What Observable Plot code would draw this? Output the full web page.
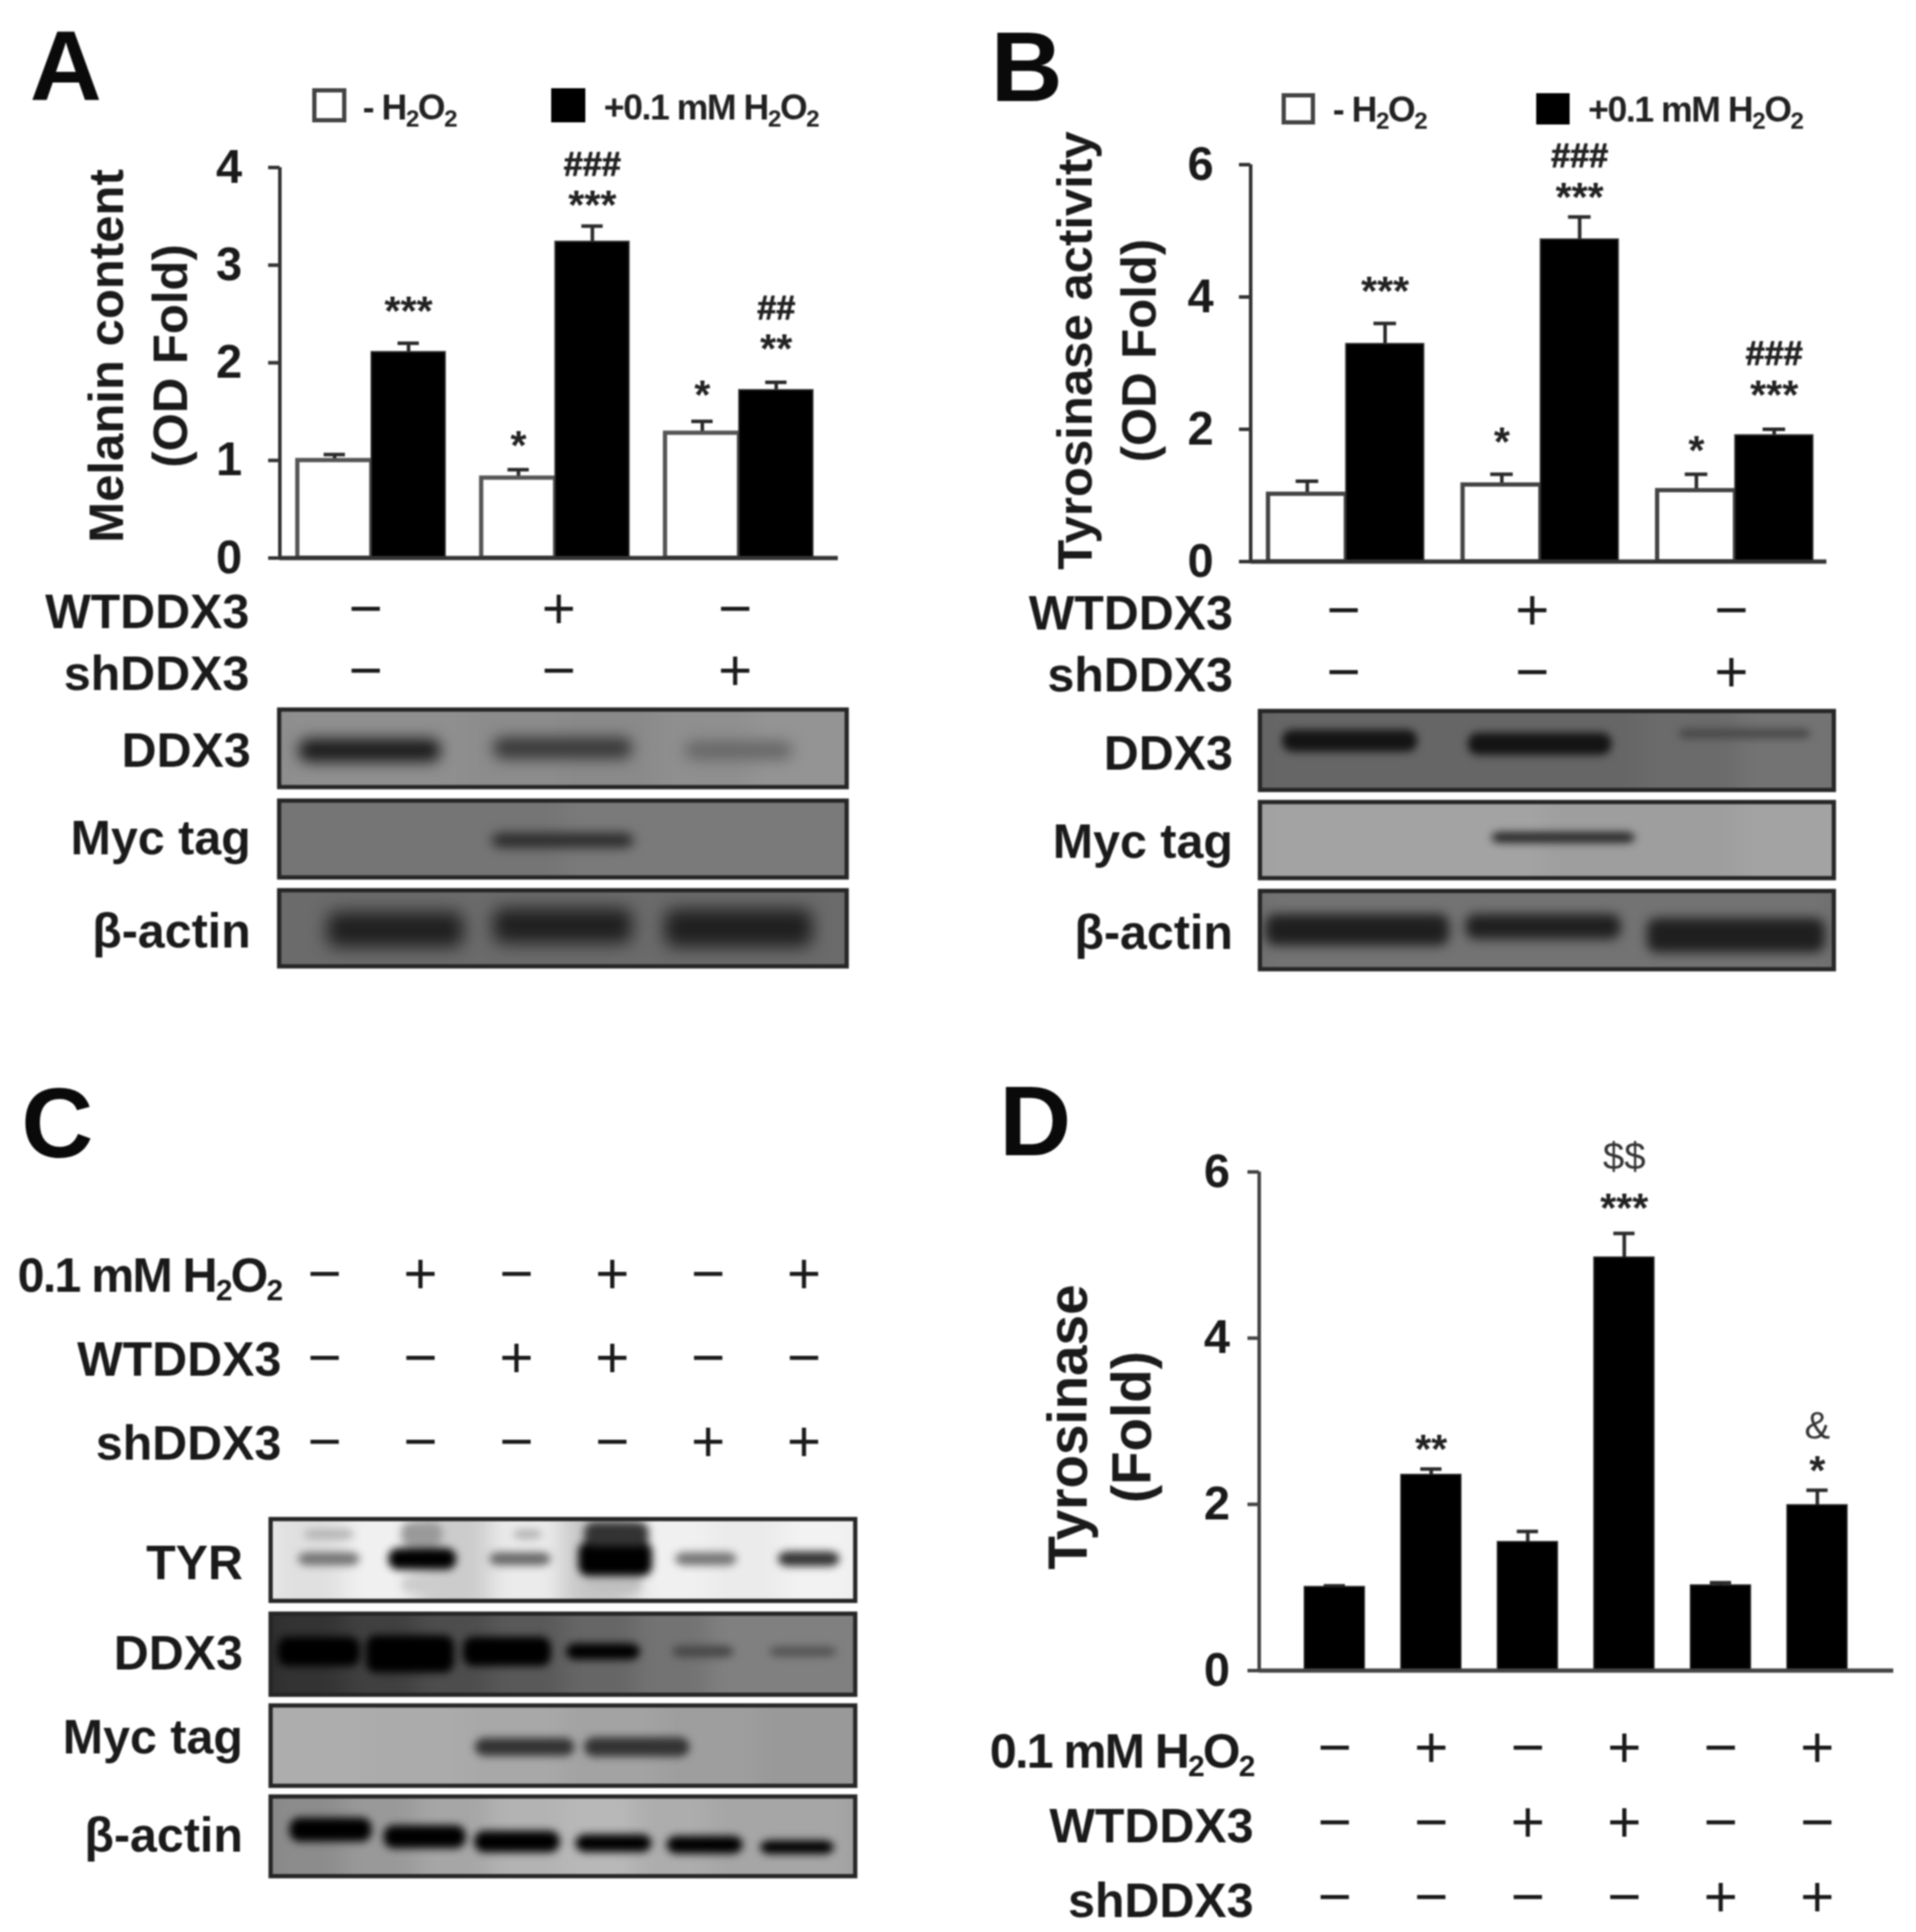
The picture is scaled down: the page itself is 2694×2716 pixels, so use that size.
<!DOCTYPE html>
<html>
<head>
<meta charset="utf-8">
<script src="https://cdn.jsdelivr.net/npm/d3@7"></script>
<script src="https://cdn.jsdelivr.net/npm/@observablehq/plot@0.6"></script>
<style>
  html, body { margin: 0; padding: 0; background: #fff; }
  #root { position: relative; width: 2694px; height: 2716px; overflow: hidden; filter: blur(1px); font-family: "Liberation Sans", Arial, sans-serif; }
  .letter { position: absolute; font-weight: bold; font-size: 140px; line-height: 1; color: #0a0a0a; }
  .swatch { position: absolute; box-sizing: border-box; }
  .legend { position: absolute; font-weight: bold; font-size: 50px; line-height: 1; letter-spacing: -2px; color: #222; white-space: nowrap; }
  .legend sub { font-size: 34px; line-height: 0; vertical-align: -10px; }
</style>
</head>
<body>
<div id="root"></div>
<script>
// ---------- Bar chart values ----------
const melaninMinus = [1.0, 0.82, 1.28];
const melaninMinusTop = [1.06, 0.905, 1.40];
const melaninPlus = [2.11, 3.24, 1.72];
const melaninPlusTop = [2.2, 3.40, 1.80];
const tyrActMinus = [1.02, 1.16, 1.075];
const tyrActMinusTop = [1.215, 1.32, 1.32];
const tyrActPlus = [3.29, 4.87, 1.91];
const tyrActPlusTop = [3.6, 5.21, 2.0];
const tyrosinaseFold = [1.006, 2.355, 1.547, 4.97, 1.025, 1.99];
const tyrosinaseFoldTop = [1.02, 2.425, 1.674, 5.26, 1.057, 2.17];

// ---------- Significance labels: text, group, series, level on the value axis ----------
const sigA = [["***",0,1,2.59],["*",1,0,1.21],["###",1,1,4.03],["***",1,1,3.67],["*",2,0,1.73],["##",2,1,2.56],["**",2,1,2.2]];
const sigB = [["***",0,1,4.17],["*",1,0,1.89],["###",1,1,6.13],["***",1,1,5.59],["*",2,0,1.76],["###",2,1,3.14],["***",2,1,2.6]];
const sigD = [["**",1,0,2.73],["$$",3,0,6.18],["***",3,0,5.63],["&",5,0,2.94],["*",5,0,2.47]];

// ---------- Treatment tables ----------
const rowH2O2 = "0.1 mM H₂O₂", rowWT = "WTDDX3", rowSh = "shDDX3";
const wtThree = ["−", "+", "−"];
const shThree = ["−", "−", "+"];
const h2o2Six = ["−", "+", "−", "+", "−", "+"];
const wtSix = ["−", "−", "+", "+", "−", "−"];
const shSix = ["−", "−", "−", "−", "+", "+"];

// ---------- Blot densitometry: darkness 0 (white) to 1 (black) ----------
const blots = {
  aDDX3: {bg:[.46,.44,.44,.45,.46,.44,.42,.42], c:[.16,.50,.81], w:[.25,.245,.19], y:[.53,.50,.53], h:[.3,.28,.24], ink:[.9,.78,.6]},
  aMyc:  {bg:[.54,.54,.54,.54,.52,.52,.52,.52], c:[.50], w:[.25], y:[.52], h:[.18], ink:[.85]},
  aAct:  {bg:[.58,.58,.58,.58,.58,.58,.58,.58], c:[.205,.5,.81], w:[.24,.245,.26], y:[.52,.47,.5], h:[.46,.46,.5], ink:[.88,.88,.88]},
  bDDX3: {bg:[.62,.6,.6,.6,.6,.58,.55,.55], c:[.157,.488,.845], w:[.235,.25,.23], y:[.38,.42,.29], h:[.28,.28,.12], ink:[.92,.92,.72]},
  bMyc:  {bg:[.38,.36,.36,.36,.38,.38,.36,.36], c:[.529], w:[.25], y:[.47], h:[.14], ink:[.85]},
  bAct:  {bg:[.58,.55,.55,.55,.55,.55,.55,.58], c:[.17,.494,.83], w:[.32,.27,.31], y:[.5,.46,.57], h:[.4,.32,.44], ink:[.88,.88,.88]},
  cTYR:  {bg:[.05,.12,.06,.2,.08,.22,.06,.08,.05,.08], c:[.1,.26,.427,.59,.745,.921,.1,.259,.44,.592,.26,.59], w:[.105,.116,.105,.126,.105,.105,.085,.07,.05,.11,.07,.09], y:[.49,.49,.49,.49,.49,.49,.19,.19,.19,.19,.8,.8], h:[.16,.26,.16,.42,.16,.18,.12,.3,.12,.3,.2,.2], ink:[.55,1,.6,1,.55,.8,.3,.4,.3,.8,.2,.25]},
  cDDX3: {bg:[.85,.8,.75,.7,.65,.6,.55,.5,.5,.5], c:[.083,.239,.405,.569,.74,.911], w:[.14,.15,.15,.126,.105,.115], y:[.47,.5,.47,.47,.47,.47], h:[.36,.46,.36,.2,.14,.12], ink:[1,1,1,1,.72,.68]},
  cMyc:  {bg:[.32,.32,.33,.34,.36,.38,.4,.4], c:[.435,.627], w:[.17,.18], y:[.52,.52], h:[.22,.24], ink:[.8,.8]},
  cAct:  {bg:[.5,.45,.4,.35,.3,.28,.32,.35,.35,.4], c:[.103,.264,.422,.587,.743,.901], w:[.14,.14,.146,.13,.13,.126], y:[.42,.51,.57,.59,.61,.64], h:[.3,.29,.27,.22,.22,.17], ink:[1,1,1,1,1,1]}
};

// ---------- Helpers ----------
const FONT = '"Liberation Sans", Arial, sans-serif';
const root = document.getElementById("root");
function place(x0, y0, x1, y1, [l, t, r, b]) {
  return {
    width: x1 - x0 + l + r, height: y1 - y0 + t + b,
    marginLeft: l, marginTop: t, marginRight: r, marginBottom: b,
    style: {position: "absolute", left: `${x0 - l}px`, top: `${y0 - t}px`, fontFamily: FONT, background: "transparent", overflow: "visible", maxWidth: "none", color: "#1a1a1a"}
  };
}
function add(node) { root.appendChild(node); return node; }

function barChart({box, xDomain, bw, cap, yMax, yTicks, title, titleSize = 69, titleY, titleDx, series, sig, tickPad, axisColor}) {
  const rows = series.flatMap(s => s.values.map((v, g) => ({
    g, slot: s.slot, fill: s.fill, stroke: s.stroke, value: v, top: s.tops[g],
    cx: g + (s.slot + 0.5) * bw
  })));
  const sigRows = sig.map(([text, g, slot, level]) => ({text, level, cx: g + (slot + 0.5) * bw}));
  const stars = sigRows.filter(d => d.text[0] === "*");
  const hashes = sigRows.filter(d => d.text[0] === "#");
  const plain = sigRows.filter(d => d.text[0] === "$" || d.text[0] === "&");
  const x1 = d => d.g + d.slot * bw, x2 = d => d.g + (d.slot + 1) * bw;
  add(Plot.plot({
    ...place(...box, [420, 130, 20, 40]),
    x: {domain: xDomain, axis: null},
    y: {domain: [0, yMax], axis: null},
    marks: [
      Plot.ruleX(rows, {x: "cx", y1: "value", y2: "top", stroke: "#2a2a2a", strokeWidth: 5}),
      Plot.ruleY(rows, {y: "top", x1: d => d.cx - cap, x2: d => d.cx + cap, stroke: "#2a2a2a", strokeWidth: 5}),
      Plot.rect(rows.filter(d => d.fill === "#fff"), {x1, x2, y1: 0, y2: "value", fill: "#fff", stroke: d => d.stroke, strokeWidth: 6}),
      Plot.rect(rows.filter(d => d.fill !== "#fff"), {x1, x2, y1: 0, y2: "value", fill: "#000", stroke: d => d.stroke, strokeWidth: 2}),
      Plot.ruleX([xDomain[0]], {stroke: axisColor, strokeWidth: 5}),
      Plot.ruleY([0], {stroke: axisColor, strokeWidth: 6}),
      Plot.axisY({ticks: yTicks, tickFormat: "d", tickSize: 16, tickPadding: tickPad, fontSize: 66, fontWeight: "bold", strokeWidth: 5, stroke: axisColor, label: null, fill: "#1a1a1a"}),
      Plot.text([title], {frameAnchor: "left", y: () => titleY, dx: titleDx, rotate: -90, fontSize: titleSize, fontWeight: "bold", lineHeight: 72 / titleSize * 1.25, textAnchor: "middle", lineAnchor: "middle", fill: "#1a1a1a"}),
      Plot.text(stars, {x: "cx", y: "level", text: "text", fontSize: 58, fontWeight: "bold", dy: 9, fill: "#222"}),
      Plot.text(hashes, {x: "cx", y: "level", text: "text", fontSize: 48, fontWeight: "bold", fill: "#222", stroke: "#222", strokeWidth: 1.2}),
      Plot.text(plain, {x: "cx", y: "level", text: "text", fontSize: 54, fill: "#333"})
    ]
  }));
}

// Real subscripts for the H2O2 row label, keeping it as live text.
function subscript(svg) {
  svg.querySelectorAll("text").forEach(t => {
    if (!t.textContent.includes("₂")) return;
    const parts = t.textContent.split("₂");
    t.textContent = "";
    t.style.letterSpacing = "-2.5px";
    parts.forEach((part, i) => {
      const a = document.createElementNS("http://www.w3.org/2000/svg", "tspan");
      a.textContent = part;
      if (i > 0 && part === "") return;
      t.appendChild(a);
      if (i < parts.length - 1) {
        const s = document.createElementNS("http://www.w3.org/2000/svg", "tspan");
        s.textContent = "2";
        s.setAttribute("dy", "12");
        s.setAttribute("font-size", "42");
        if (i > 0) a.setAttribute("dy", "-12");
        t.appendChild(s);
      }
    });
  });
  return svg;
}

function treatmentTable({box, xDomain, rowsDef, centres, labelPad, labelDy}) {
  const names = rowsDef.map(r => r[0]);
  const cells = rowsDef.flatMap(([row, signs]) => signs.map((sign, g) => ({row, sign, cx: centres[g]})));
  add(subscript(Plot.plot({
    ...place(...box, [440, 50, 40, 50]),
    x: {domain: xDomain, axis: null},
    y: {type: "point", domain: names, padding: 0, axis: null},
    marks: [
      Plot.axisY({tickSize: 0, tickPadding: labelPad, dy: labelDy, label: null, fontSize: 68, fontWeight: "bold", fontVariant: "normal", fill: "#1a1a1a"}),
      Plot.text(cells, {x: "cx", y: "row", text: "sign", fontSize: 82, fill: "#1a1a1a"})
    ]
  })));
}

function blot({box, name, data, labelPad, labelDy = 0, bandBlur = 6, bgBlur = 16}) {
  const bgCols = data.bg.map((ink, i) => ({ink, a: (i - 1) / (data.bg.length - 2), b: i / (data.bg.length - 2) + 0.02}));
  const bands = data.c.map((c, i) => ({ink: data.ink[i], x1: c - data.w[i] / 2, x2: c + data.w[i] / 2, y1: data.y[i] - data.h[i] / 2, y2: data.y[i] + data.h[i] / 2}));
  const svg = Plot.plot({
    ...place(...box, [340, 6, 6, 6]),
    x: {domain: [0, 1], axis: null},
    y: {domain: [1, 0], axis: null},
    color: {type: "linear", domain: [0, 1], range: ["#ffffff", "#000000"]},
    marks: [
      Plot.rect(bgCols, {x1: "a", x2: "b", y1: -0.4, y2: 1.4, fill: "ink", clip: true}),
      Plot.rect(bands, {x1: "x1", x2: "x2", y1: "y1", y2: "y2", fill: "ink", rx: 14, clip: true}),
      Plot.frame({stroke: "#262626", strokeWidth: 6}),
      Plot.axisY({ticks: [0.5], tickFormat: () => name, tickSize: 0, tickPadding: labelPad, dy: labelDy, label: null, fontSize: 68, fontWeight: "bold", fill: "#1a1a1a"})
    ]
  });
  // Soften the film: blur the density marks' groups, before the frame clip applies.
  const rects = [...svg.querySelectorAll("rect")].filter(r => r.parentNode.tagName !== "clipPath" && r.getAttribute("fill") && r.getAttribute("fill") !== "none");
  rects[0].parentNode.style.filter = `blur(${bgBlur}px)`;
  rects[data.bg.length].parentNode.style.filter = `blur(${bandBlur}px)`;
  add(svg);
}

function html(cls, css, content) {
  const el = document.createElement("div");
  el.className = cls;
  Object.assign(el.style, css);
  if (content) el.innerHTML = content;
  return add(el);
}
function letter(t, x, baseline) { html("letter", {left: `${x}px`, top: `${baseline - 0.8465 * 140}px`}, t); }
function legend(whiteBox, blackBox, minusX, plusX, cy) {
  html("swatch", {left: `${whiteBox[0]}px`, top: `${whiteBox[1]}px`, width: `${whiteBox[2]}px`, height: `${whiteBox[3]}px`, border: "6px solid #444", background: "#fff"});
  html("swatch", {left: `${blackBox[0]}px`, top: `${blackBox[1]}px`, width: `${blackBox[2]}px`, height: `${blackBox[3]}px`, background: "#000"});
  html("legend", {left: `${minusX}px`, top: `${cy - 25}px`}, "- H<sub>2</sub>O<sub>2</sub>");
  html("legend", {left: `${plusX}px`, top: `${cy - 25}px`}, "+0.1 mM H<sub>2</sub>O<sub>2</sub>");
}

// ---------- Panel A ----------
letter("A", 42, 142);
legend([439, 124, 48, 48], [775, 124, 48, 48], 510, 849, 151);
const xA = [-0.097, 2.94], bwA = 0.402;
barChart({
  box: [393, 235, 1178, 784], xDomain: xA, bw: bwA, cap: 0.058, yMax: 4, yTicks: [0, 1, 2, 3, 4],
  title: "Melanin content\n(OD Fold)", titleY: 2.07, titleDx: -204, tickPad: 37, axisColor: "#333",
  series: [
    {slot: 0, fill: "#fff", stroke: "#555", values: melaninMinus, tops: melaninMinusTop},
    {slot: 1, fill: "#000", stroke: "#333", values: melaninPlus, tops: melaninPlusTop}
  ],
  sig: sigA
});
treatmentTable({box: [393, 856, 1178, 943], xDomain: xA, centres: [0.37, 1.42, 2.38], labelPad: 43, labelDy: 5, rowsDef: [[rowWT, wtThree], [rowSh, shThree]]});
blot({box: [392, 997, 1190, 1106], name: "DDX3", data: blots.aDDX3, labelPad: 40, labelDy: 4, bandBlur: 10});
blot({box: [392, 1125, 1190, 1233], name: "Myc tag", data: blots.aMyc, labelPad: 40, bandBlur: 8});
blot({box: [392, 1251, 1190, 1358], name: "β-actin", data: blots.aAct, labelPad: 40, labelDy: 5, bandBlur: 12});

// ---------- Panel B ----------
letter("B", 1393, 143);
legend([1802, 131, 47, 44], [2160, 131, 47, 44], 1874, 2233, 154);
const xB = [-0.091, 2.87], bwB = 0.4;
barChart({
  box: [1758, 231, 2568, 789], xDomain: xB, bw: bwB, cap: 0.058, yMax: 6, yTicks: [0, 2, 4, 6],
  title: "Tyrosinase activity\n(OD Fold)", titleY: 3.19, titleDx: -207, tickPad: 36, axisColor: "#333",
  series: [
    {slot: 0, fill: "#fff", stroke: "#444", values: tyrActMinus, tops: tyrActMinusTop},
    {slot: 1, fill: "#000", stroke: "#333", values: tyrActPlus, tops: tyrActPlusTop}
  ],
  sig: sigB
});
treatmentTable({box: [1758, 858, 2568, 945], xDomain: xB, centres: [0.387, 1.356, 2.38], labelPad: 25, labelDy: 5, rowsDef: [[rowWT, wtThree], [rowSh, shThree]]});
blot({box: [1771, 999, 2578, 1110], name: "DDX3", data: blots.bDDX3, labelPad: 38, labelDy: 5});
blot({box: [1771, 1127, 2578, 1234], name: "Myc tag", data: blots.bMyc, labelPad: 38, labelDy: 3});
blot({box: [1771, 1252, 2578, 1362], name: "β-actin", data: blots.bAct, labelPad: 38, labelDy: 5, bandBlur: 8});

// ---------- Panel C ----------
letter("C", 30, 1628);
const laneC = [0, 1, 2, 3, 4, 5];
treatmentTable({box: [456, 1791, 1130, 2027], xDomain: [0, 5], centres: laneC, labelPad: 61, labelDy: 3, rowsDef: [[rowH2O2, h2o2Six], [rowWT, wtSix], [rowSh, shSix]]});
blot({box: [380, 2135, 1202, 2250], name: "TYR", data: blots.cTYR, labelPad: 39, labelDy: 5});
blot({box: [380, 2268, 1202, 2382], name: "DDX3", data: blots.cDDX3, labelPad: 39});
blot({box: [380, 2397, 1202, 2510], name: "Myc tag", data: blots.cMyc, labelPad: 39, labelDy: -11});
blot({box: [380, 2525, 1202, 2637], name: "β-actin", data: blots.cAct, labelPad: 39});

// ---------- Panel D ----------
letter("D", 1405, 1625);
const xD = [-0.472, 6.1], bwD = 0.62;
barChart({
  box: [1770, 1647, 2662, 2348], xDomain: xD, bw: bwD, cap: 0.11, yMax: 6, yTicks: [0, 2, 4, 6],
  title: "Tyrosinase\n(Fold)", titleSize: 77, titleY: 2.93, titleDx: -226, tickPad: 25, axisColor: "#444",
  series: [{slot: 0, fill: "#000", stroke: "#222", values: tyrosinaseFold, tops: tyrosinaseFoldTop}],
  sig: sigD
});
treatmentTable({box: [1770, 2456, 2662, 2667], xDomain: xD, centres: laneC.map(g => g + bwD / 2), labelPad: 8, labelDy: 6, rowsDef: [[rowH2O2, h2o2Six], [rowWT, wtSix], [rowSh, shSix]]});
</script>
</body>
</html>
